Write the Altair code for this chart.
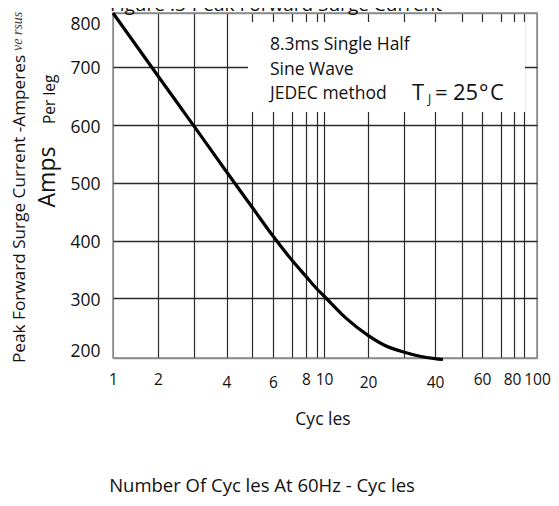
import altair as alt
import pandas as pd

# ---- data ----
cycles = [1, 2, 3, 4, 5, 6, 7, 8, 9, 10, 14.8, 20, 24.8, 30, 35.2, 40, 43]
amps = [800, 684, 598, 519, 458, 408, 366, 338, 317, 304, 268, 238, 221, 210, 203, 199, 197.5]

x_grid = [1, 2, 3, 4, 5, 6, 7, 8, 9, 10, 20, 30, 40, 50, 60, 70, 80, 90, 100]
x_labels = [1, 2, 4, 6, 8, 10, 20, 40, 60, 80, 100]
y_grid = [200, 300, 400, 500, 600, 700, 800]

# hand-drawn log grid of the original (pixel positions of each grid line)
x_range = [0, 45, 81, 113.5, 139, 160, 179, 193, 203.5, 211, 255, 290.5, 322, 348.5, 369, 388, 401, 411, 424]
y_range = [345, 285.3, 227.7, 169.7, 112, 53.7, 0]

W, H = 424, 345
SANS = "Open Sans"

df = pd.DataFrame({"cycles": cycles, "amps": amps})

label_list = ",".join(str(v) for v in x_labels)
x_enc = alt.X(
    "cycles:Q",
    scale=alt.Scale(type="linear", domain=x_grid, range=x_range, nice=False, zero=False),
    axis=alt.Axis(
        values=x_grid, format="d", title=None, domain=False, ticks=False,
        labelExpr=f"indexof([{label_list}], datum.value) >= 0 ? datum.label : ''",
        labelFlush=False, labelFont=SANS, labelFontSize=15.5, labelColor="#111",
        labelPadding={"condition": {"test": "indexof([4,6,20,40], datum.value) >= 0", "value": 17}, "value": 14},
        labelOffset={"condition": {"test": "datum.value == 80", "value": -2}, "value": 0},
        labelOverlap=False,
        gridColor={"condition": {"test": "datum.value == 1 || datum.value == 100", "value": "#8a8a8a"}, "value": "#2a2a2a"},
        gridWidth=1.2,
    ),
)
y_enc = alt.Y(
    "amps:Q",
    scale=alt.Scale(type="linear", domain=y_grid, range=y_range, nice=False, zero=False),
    axis=alt.Axis(
        values=y_grid, format="d", title=None, domain=False, ticks=False,
        labelFlush=True, labelFont=SANS, labelFontSize=17.5, labelColor="#111",
        labelPadding=13, labelOffset=2,
        gridColor={"condition": {"test": "datum.value == 200 || datum.value == 800", "value": "#8a8a8a"}, "value": "#2a2a2a"},
        gridWidth=1.6,
    ),
)

curve = alt.Chart(df).mark_line(color="black", strokeWidth=3.2, interpolate="monotone").encode(
    x=x_enc, y=y_enc
)

one = alt.Data(values=[{}])

box = alt.Chart(one).mark_rect(color="white").encode(
    x=alt.value(135), x2=alt.value(412), y=alt.value(9), y2=alt.value(99)
)


def txt(text, x, y, size, align="left", angle=0, font=SANS, style="normal", color="#111", baseline="alphabetic"):
    kw = dict(text=text, font=font, fontSize=size, align=align, baseline=baseline, color=color, fontStyle=style)
    if angle:
        kw["angle"] = angle
    return alt.Chart(one).mark_text(**kw).encode(x=alt.value(x), y=alt.value(y))


texts = [
    txt("Figure .3-Peak Forward Surge Current", 163, -2, 19, align="center"),
    txt("8.3ms Single Half", 157, 37, 17.5),
    txt("Sine Wave", 157, 61.5, 17.5),
    txt("JEDEC method", 157, 86, 17.5),
    txt("T", 299, 87, 22),
    txt("J", 315, 89.5, 12),
    txt("=", 322, 87, 22),
    txt("25", 340, 87, 22),
    txt("°", 366, 87, 22),
    txt("C", 377, 87, 22),
    txt("Cyc les", 210, 412, 17.5, align="center"),
    txt("Number Of Cyc les  At 60Hz  - Cyc les", 149, 479, 18.5, align="center"),
    txt("Peak Forward Surge Current -Amperes", -88, 350, 17.2, angle=270),
    txt("ve rsus", -91.5, 38, 14, angle=270, font="Liberation Serif", style="italic", color="#444"),
    txt("Per leg", -58, 111, 15.5, angle=270),
    txt("Amps", -58, 164, 23, align="center", angle=270),
]

chart = alt.layer(box, curve, *texts).properties(
    width=W, height=H,
    autosize=alt.AutoSizeParams(type="none"),
    padding={"left": 105, "top": 5, "right": 14, "bottom": 140},
).configure_view(stroke="#8a8a8a", strokeWidth=1.5)

chart.save("out.html", embed_options={"renderer": "svg", "actions": False})
